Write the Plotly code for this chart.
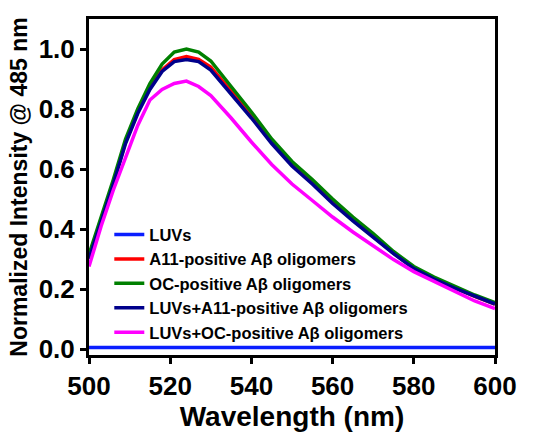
import plotly.graph_objects as go

wavelength = [500, 503, 506, 509, 512, 515, 518, 521, 524, 527, 530, 535, 540,
              545, 550, 555, 560, 565, 570, 575, 580, 585, 590, 595, 600]

luvs = [0.005] * len(wavelength)
a11 = [0.31, 0.43, 0.555, 0.69, 0.79, 0.87, 0.93, 0.965, 0.975, 0.965, 0.94, 0.86, 0.775,
       0.69, 0.615, 0.555, 0.49, 0.43, 0.375, 0.32, 0.27, 0.235, 0.205, 0.175, 0.15]
oc = [0.315, 0.44, 0.565, 0.70, 0.80, 0.885, 0.95, 0.99, 1.0, 0.99, 0.96, 0.875, 0.79,
      0.70, 0.625, 0.565, 0.50, 0.44, 0.385, 0.325, 0.275, 0.24, 0.21, 0.18, 0.155]
luvs_a11 = [0.30, 0.425, 0.55, 0.685, 0.785, 0.865, 0.925, 0.958, 0.965, 0.958, 0.93, 0.85, 0.77,
            0.685, 0.61, 0.55, 0.485, 0.427, 0.372, 0.318, 0.268, 0.233, 0.203, 0.175, 0.15]
luvs_oc = [0.275, 0.41, 0.53, 0.64, 0.745, 0.83, 0.865, 0.885, 0.893, 0.875, 0.845, 0.77, 0.69,
           0.615, 0.55, 0.495, 0.44, 0.39, 0.345, 0.298, 0.258, 0.225, 0.19, 0.16, 0.135]

names = ["LUVs", "A11-positive Aβ oligomers", "OC-positive Aβ oligomers",
         "LUVs+A11-positive Aβ oligomers", "LUVs+OC-positive Aβ oligomers"]
series = [luvs, a11, oc, luvs_a11, luvs_oc]
colors = ["#0a1eff", "#ff0000", "#008000", "#00008b", "#ff00ff"]

font_family = "Arial, Liberation Sans, sans-serif"

fig = go.Figure()
for name, ys, c in zip(names, series, colors):
    fig.add_trace(go.Scatter(x=wavelength, y=ys, mode="lines", name=name,
                             line=dict(color=c, width=3.5)))

fig.update_layout(
    width=544, height=438,
    margin=dict(l=89, r=49, t=19, b=83),
    paper_bgcolor="white", plot_bgcolor="white",
    font=dict(family=font_family, color="black"),
    legend=dict(x=0.05, y=0.41, xanchor="left", yanchor="top",
                bgcolor="rgba(0,0,0,0)",
                font=dict(size=16.5, family=font_family, color="black", weight="bold"),
                tracegroupgap=0),
)
fig.update_xaxes(
    range=[500, 600], tickvals=[500, 520, 540, 560, 580, 600],
    showline=True, linewidth=3, linecolor="black", mirror=True,
    ticks="outside", ticklen=6, tickwidth=3, tickcolor="black",
    showgrid=False, zeroline=False,
    tickfont=dict(size=26, family=font_family, weight="bold"),
    title=dict(text="Wavelength (nm)", font=dict(size=28, family=font_family, weight="bold"),
               standoff=3),
)
fig.update_yaxes(
    range=[-0.02, 1.1], tickvals=[0.0, 0.2, 0.4, 0.6, 0.8, 1.0], tickformat=".1f",
    showline=True, linewidth=3, linecolor="black", mirror=True,
    ticks="outside", ticklen=6, tickwidth=3, tickcolor="black",
    showgrid=False, zeroline=False,
    tickfont=dict(size=26, family=font_family, weight="bold"),
    title=dict(text="Normalized Intensity @ 485 nm",
               font=dict(size=23, family=font_family, weight="bold"), standoff=5),
)

fig.write_html("out.html")
